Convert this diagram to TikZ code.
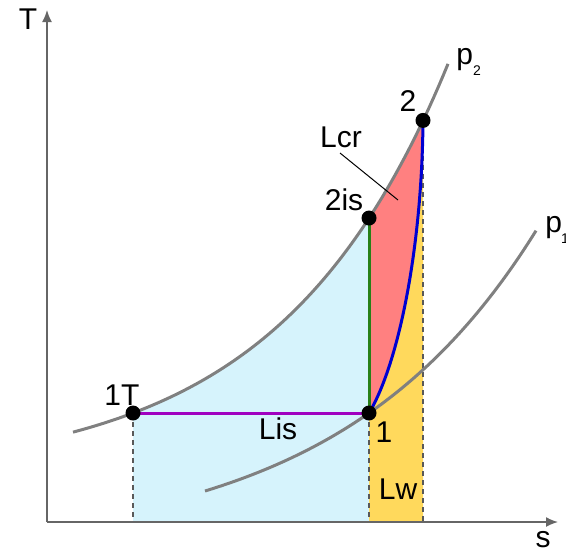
\documentclass[tikz,border=0pt]{standalone}
\usepackage{fontspec}
\setmainfont{Liberation Sans}
\usetikzlibrary{arrows.meta}
\definecolor{lisblue}{RGB}{214,243,252}
\definecolor{lwyellow}{RGB}{255,217,92}
\definecolor{lcrred}{RGB}{255,128,128}
\definecolor{isgreen}{RGB}{40,128,24}
\definecolor{ispurple}{RGB}{160,0,192}
\definecolor{realblue}{RGB}{0,0,210}
\tikzstyle{isobar} = [draw=gray, line width=1.5pt]
\tikzstyle{dot} = [circle, fill=black, inner sep=0pt, minimum size=7.5pt]
\tikzstyle{lbl} = [inner sep=0pt]
\tikzstyle{proj} = [draw=black!65, line width=0.7pt, dash pattern=on 2.5pt off 2pt]

\begin{document}
\begin{tikzpicture}[x=0.5pt, y=-0.5pt, >={Latex[length=6pt,width=5pt]},
		font=\fontsize{15}{18}\selectfont]
	\useasboundingbox (0,0) rectangle (566,554);
	% Punkte
	\coordinate (o) at (47,522);
	\coordinate (tT) at (133,413);
	\coordinate (one) at (369,413);
	\coordinate (twois) at (369,218);
	\coordinate (two) at (423,120.4);
	% Flaechen
	\fill[lisblue] (133,522) -- (tT) -- plot[domain=133:369, samples=40] (\x,{477-64*exp(0.005923*(\x-133))}) -- (369,522) -- cycle;
	\fill[lwyellow] (369,522) -- (one) .. controls (398,365) and (422,250) .. (two) -- (423,522) -- cycle;
	\fill[lcrred] (twois) -- (one) .. controls (398,365) and (422,250) .. (two) -- plot[domain=423:369, samples=20] (\x,{477-64*exp(0.005923*(\x-133))}) -- cycle;
	% gestrichelte Linien
	\draw[proj] (tT) -- (133,522);
	\draw[proj] (one) -- (369,522);
	\draw[proj] (two) -- (423,522);
	% Achsen
	\draw[->, draw=black!60, line width=0.8pt] (o) -- (47,10);
	\draw[->, draw=black!60, line width=0.8pt] (o) -- (558,522);
	% Isobaren
	\draw[isobar] plot[domain=73:448, samples=80] (\x,{477-64*exp(0.005923*(\x-133))});
	\draw[isobar] plot[domain=205:536, samples=80] (\x,{552-61*exp(0.005022*(\x-205))});
	% Zustandsaenderungen
	\draw[ispurple, line width=1.5pt] (tT) -- (one);
	\draw[isgreen, line width=1.5pt] (twois) -- (one);
	\draw[realblue, line width=1.5pt] (one) .. controls (398,365) and (422,250) .. (two);
	\draw[line width=0.5pt] (340,153) -- (398,200);
	% Punkte
	\node[dot] (n1T) at (tT) {};
	\node[dot] (n1) at (one) {};
	\node[dot] (n2is) at (twois) {};
	\node[dot] (n2) at (two) {};
	% Beschriftung
	\node[lbl] (lT) at (28,19) {T};
	\node[lbl] (ls) at (543,540) {s};
	\node[lbl, anchor=base west] (lp2) at (456,64) {p\raisebox{-5.5pt}{\fontsize{7}{8}\selectfont 2}};
	\node[lbl, anchor=base west] (lp1) at (545,232) {p\kern-0.5pt\raisebox{-5.5pt}{\fontsize{7}{8}\selectfont 1}};
	\node[lbl] (l2) at (408,101) {2};
	\node[lbl] (lLcr) at (341,137) {Lcr};
	\node[lbl] (l2is) at (344,200) {2is};
	\node[lbl] (l1T) at (122,395) {1T};
	\node[lbl] (lLis) at (278,429) {Lis};
	\node[lbl] (l1) at (384,432) {1};
	\node[lbl] (lLw) at (398,489) {Lw};
\end{tikzpicture}
\end{document}
